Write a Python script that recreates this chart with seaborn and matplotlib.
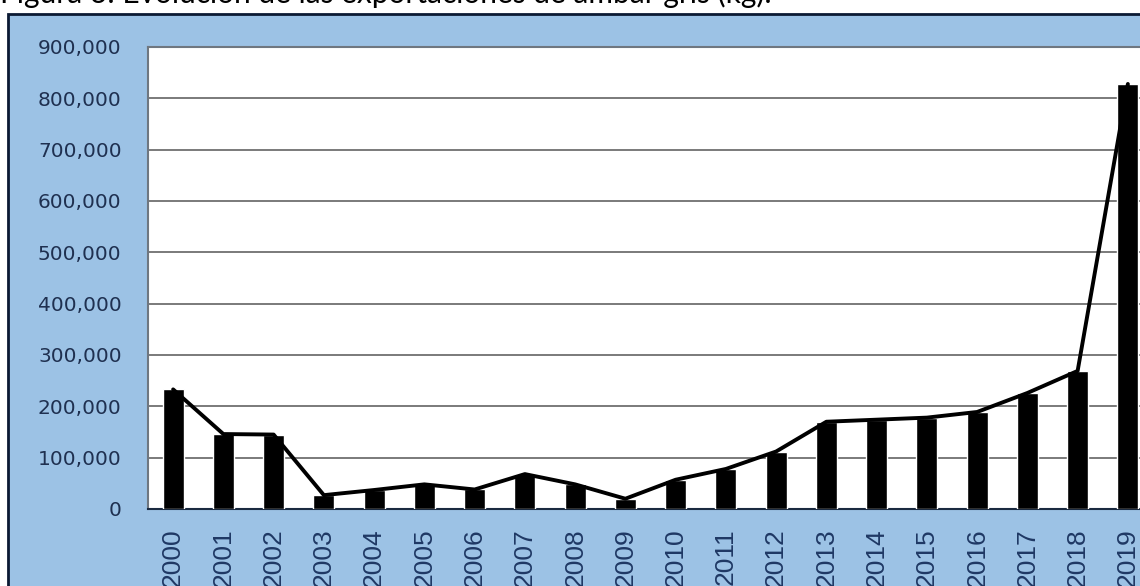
import numpy as np
import pandas as pd
import matplotlib
matplotlib.use("Agg")
import matplotlib.pyplot as plt
from matplotlib.patches import Rectangle
from matplotlib.ticker import FuncFormatter, MultipleLocator
import seaborn as sns

title = "Figura 3: Evolución de las exportaciones de ámbar gris (kg)."
years = [str(y) for y in range(2000, 2020)]
exports_kg = [233000, 146000, 145000, 27000, 37000, 48000, 38000, 68000, 48000, 20000,
              57000, 78000, 112000, 170000, 174000, 178000, 189000, 226000, 269000, 828000]

sns.set_theme(style="white")
plt.rcParams['font.family'] = ['DejaVu Sans']

W, H = 1140, 586
fig = plt.figure(figsize=(W / 100, H / 100), dpi=100)
fig.patch.set_facecolor("white")

# blue chart frame
frame = Rectangle((8 / W, -0.1), 1.2, (H - 14) / H + 0.1, transform=fig.transFigure,
                  facecolor="#9CC2E5", edgecolor="#0B1A33", linewidth=2.0, zorder=-10)
fig.patches.append(frame)

fig.text(0.0, 1 - 3 / H, title, fontsize=21.5, family=["Lato", "DejaVu Sans"],
         color="black", va="baseline", ha="left")

ax = fig.add_axes([148 / W, (H - 509) / H, (1153 - 148) / W, (509 - 47) / H])
ax.set_zorder(5)
ax.set_facecolor("white")

df = pd.DataFrame({"year": years, "kg": exports_kg})
sns.barplot(data=df, x="year", y="kg", color="black", width=0.42, ax=ax,
            saturation=1, zorder=3)
sns.lineplot(x=np.arange(len(years)), y=exports_kg, color="black", linewidth=2.8,
             ax=ax, zorder=4)

ax.set_xlim(-0.5, len(years) - 0.5)
ax.set_ylim(0, 900000)
ax.yaxis.set_major_locator(MultipleLocator(100000))
ax.yaxis.set_major_formatter(FuncFormatter(lambda v, p: f"{int(v):,}"))
ax.grid(axis="y", color="#7a7a7a", linewidth=1.4, zorder=1)
ax.set_axisbelow(True)
ax.set_xlabel("")
ax.set_ylabel("")

ax.tick_params(axis="y", length=0, pad=19, labelsize=14.5, labelcolor="#1F3050")
ax.tick_params(axis="x", length=0, pad=14, labelsize=19, labelcolor="#1F3864",
               rotation=90)
for lbl in ax.get_xticklabels():
    lbl.set_family(["Liberation Sans", "DejaVu Sans"])
    lbl.set_va("top")

for side in ["left", "top"]:
    ax.spines[side].set_color("#6f7780")
    ax.spines[side].set_linewidth(1.5)
ax.spines["bottom"].set_color("#1a2a40")
ax.spines["bottom"].set_linewidth(1.5)
ax.spines["right"].set_visible(False)

fig.savefig("out.png", dpi=100)
